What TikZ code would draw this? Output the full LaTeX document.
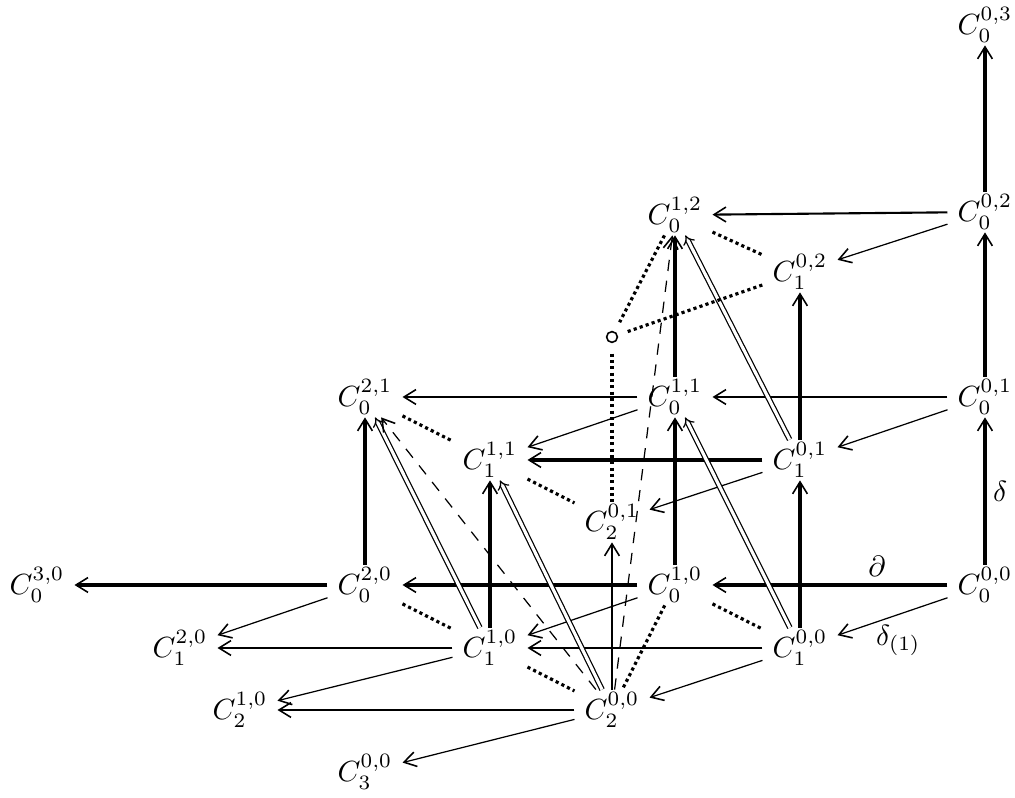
\documentclass[tikz,border=0pt]{standalone}
\usetikzlibrary{arrows.meta}
\begin{document}
\begin{tikzpicture}[x=0.01cm, y=-0.01cm, every node/.style={scale=0.83},
    >={Straight Barb[length=3.4pt,width=4.2pt,line width=0.45pt]},
    obj/.style={inner xsep=3.3pt, inner ysep=0.8pt},
    heavy/.style={->, line width=0.9pt},
    medium/.style={->, line width=0.6pt},
    fine/.style={->, line width=0.35pt},
    dbl/.style={-{Implies}, double, double distance=0.9pt, line width=0.35pt},
    dsh/.style={->, line width=0.35pt, dash pattern=on 3.2pt off 2.8pt},
    dotline/.style={line width=0.9pt, dash pattern=on 0.9pt off 0.9pt}]
  \useasboundingbox (0,0) rectangle (1015,798);

  % ebene p = 0
  \node[obj] (c000) at (985,585) {$C_0^{0,0}$};
  \node[obj] (c001) at (985,397) {$C_0^{0,1}$};
  \node[obj] (c002) at (985,212) {$C_0^{0,2}$};
  \node[obj] (c003) at (985,25)  {$C_0^{0,3}$};
  \node[obj] (c010) at (675,585) {$C_0^{1,0}$};
  \node[obj] (c011) at (675,397) {$C_0^{1,1}$};
  \node[obj] (c012) at (675,215) {$C_0^{1,2}$};
  \node[obj] (c020) at (365,585) {$C_0^{2,0}$};
  \node[obj] (c021) at (365,397) {$C_0^{2,1}$};
  \node[obj] (c030) at (37,585)  {$C_0^{3,0}$};

  % ebene p = 1
  \node[obj] (c100) at (800,648) {$C_1^{0,0}$};
  \node[obj] (c101) at (800,460) {$C_1^{0,1}$};
  \node[obj] (c102) at (800,272) {$C_1^{0,2}$};
  \node[obj] (c110) at (490,648) {$C_1^{1,0}$};
  \node[obj] (c111) at (490,460) {$C_1^{1,1}$};
  \node[obj] (c120) at (180,648) {$C_1^{2,0}$};

  % ebene p = 2, 3
  \node[obj] (c200) at (612,710) {$C_2^{0,0}$};
  \node[obj] (c201) at (612,522) {$C_2^{0,1}$};
  \node[obj] (c210) at (240,710) {$C_2^{1,0}$};
  \node[obj] (c300) at (365,772) {$C_3^{0,0}$};

  \node[draw, circle, inner sep=0pt, minimum size=0.13cm, line width=0.45pt] (o) at (612,337) {};

  % horizontale Pfeile
  \draw[heavy] (c000) -- node[pos=0.3, above=-1pt] {$\partial$} (c010);
  \draw[heavy] (c010) -- (c020);
  \draw[heavy] (c020) -- (c030);
  \draw[medium] (c001) -- (c011);
  \draw[medium] (c011) -- (c021);
  \draw[medium] (c002) -- (c012);
  \draw[heavy] (c101) -- (c111);
  \draw[medium] (c100) -- (c110);
  \draw[medium] (c110) -- (c120);
  \draw[medium] (c200) -- (c210);

  % vertikale Pfeile
  \draw[heavy] (c000) -- node[midway, right=-1pt] {$\delta$} (c001);
  \draw[heavy] (c001) -- (c002);
  \draw[heavy] (c002) -- (c003);
  \draw[heavy] (c010) -- (c011);
  \draw[heavy] (c011) -- (c012);
  \draw[heavy] (c020) -- (c021);
  \draw[heavy] (c100) -- (c101);
  \draw[heavy] (c101) -- (c102);
  \draw[heavy] (c110) -- (c111);
  \draw[medium] (c200) -- (c201);

  % schraege Pfeile
  \draw[fine] (c000) -- node[midway, below=-0.5pt, xshift=2pt] {$\delta_{(1)}$} (c100);
  \draw[fine] (c010) -- (c110);
  \draw[fine] (c020) -- (c120);
  \draw[fine] (c100) -- (c200);
  \draw[fine] (c110) -- (c210);
  \draw[fine] (c200) -- (c300);
  \draw[fine] (c001) -- (c101);
  \draw[fine] (c011) -- (c111);
  \draw[fine] (c101) -- (c201);
  \draw[fine] (c002) -- (c102);

  % Doppelpfeile und gestrichelte
  \draw[dbl] (c100) -- (c011);
  \draw[dbl] (c101) -- (c012);
  \draw[dbl] (c110) -- (c021);
  \draw[dbl] (c200) -- (c111);
  \draw[dsh] (c200) -- (c021);
  \draw[dsh] (c200) -- (c012);

  % gepunktete Linien
  \draw[dotline] (c012) -- (c102);
  \draw[dotline, shorten >=3pt] (c012) -- (o);
  \draw[dotline, shorten <=3pt] (o) -- (c102);
  \draw[dotline, shorten <=3pt] (o) -- (c201);
  \draw[dotline] (c021) -- (c111);
  \draw[dotline] (c111) -- (c201);
  \draw[dotline] (c020) -- (c110);
  \draw[dotline] (c110) -- (c200);
  \draw[dotline] (c010) -- (c200);
  \draw[dotline] (c010) -- (c100);
\end{tikzpicture}
\end{document}
